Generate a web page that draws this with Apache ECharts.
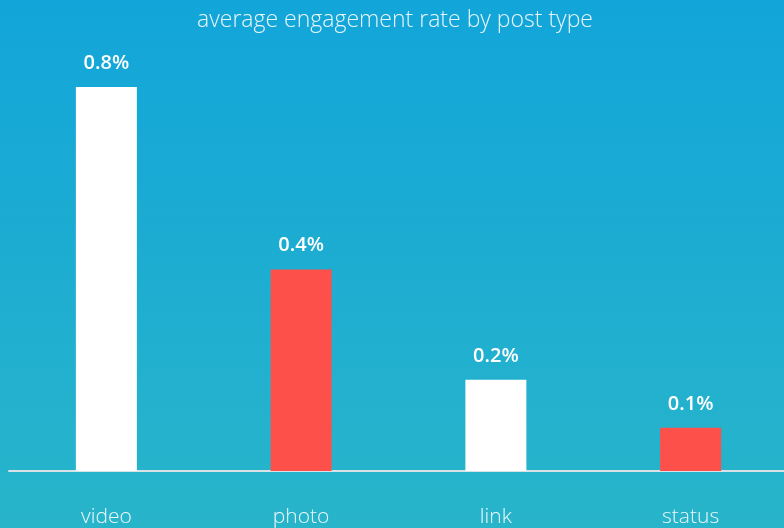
<!DOCTYPE html>
<html><head><meta charset="utf-8">
<script src="https://cdn.jsdelivr.net/npm/echarts@6/dist/echarts.min.js"></script>
<style>html,body{margin:0;padding:0;overflow:hidden;width:784px;height:528px;}#c{width:790px;height:528px;}</style>
</head><body><div id="c"></div>
<script>
const categories = ['video', 'photo', 'link', 'status'];
const values = [0.80, 0.42, 0.19, 0.09];
const barColors = ['#ffffff', '#fe504b', '#ffffff', '#fe504b'];
const titleText = 'average engagement rate by post type';

const chart = echarts.init(document.getElementById('c'));
chart.setOption({
  backgroundColor: new echarts.graphic.LinearGradient(0, 0, 0, 1, [
    {offset: 0, color: '#12a5d9'},
    {offset: 1, color: '#28b5ca'}
  ]),
  title: {
    text: titleText, left: 'center', top: 4,
    textStyle: {color: '#e8f6fb', fontFamily: 'Open Sans', fontWeight: 300, fontSize: 23}
  },
  grid: {left: 9, width: 779, top: 39, bottom: 56},
  xAxis: {
    type: 'category', data: categories,
    axisLine: {lineStyle: {color: '#d9e3e6', width: 2}},
    axisTick: {show: false},
    axisLabel: {color: '#eef8fb', fontFamily: 'Open Sans', fontWeight: 300, fontSize: 21, margin: 36}
  },
  yAxis: {type: 'value', min: 0, max: 0.9, show: false, splitLine: {show: false}},
  series: [{
    type: 'bar', barWidth: 61,
    data: values.map((v, i) => ({value: v, itemStyle: {color: barColors[i]}})),
    label: {
      show: true, position: 'top', distance: 14,
      formatter: p => p.value.toFixed(1) + '%',
      color: '#ffffff', fontFamily: 'Open Sans', fontWeight: 600, fontSize: 20
    }
  }]
});
</script></body></html>
